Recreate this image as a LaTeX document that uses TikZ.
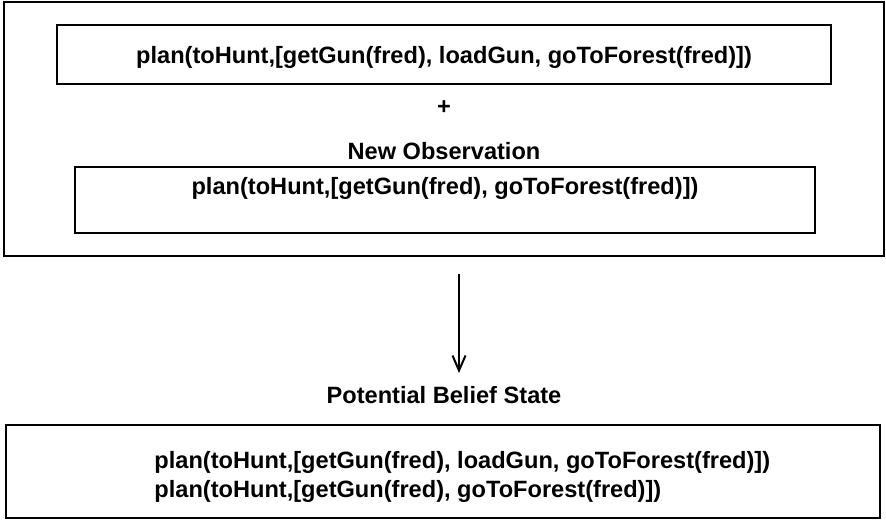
\documentclass[tikz,border=0pt]{standalone}
\usepackage{fontspec}
\setmainfont{Liberation Sans}
\usetikzlibrary{arrows.meta}

\begin{document}
\begin{tikzpicture}[x=0.5pt,y=-0.5pt,
        box/.style={draw, line width=1.1pt, inner sep=0pt},
        txt/.style={font=\fontsize{11.8}{14.5}\selectfont\bfseries, inner sep=0pt}]
        \useasboundingbox (0,0) rectangle (886,529);

        % Frame round the old plan and the observation
        \node[box, line width=1pt, minimum width=440pt, minimum height=127pt] (frame) at (444,129) {};

        % Plan held so far
        \node[box, minimum width=387pt, minimum height=29.5pt] (plan) at (444,54.5) {};
        \node[txt] (planText) at (444,57) {plan(toHunt,[getGun(fred), loadGun, goToForest(fred)])};
        \node[txt] (plus) at (444,108) {+};

        % New observation
        \node[txt] (obsLabel) at (444,151) {New Observation};
        \node[box, minimum width=370pt, minimum height=33pt] (obs) at (445,200) {};
        \node[txt] (obsText) at (445,188) {plan(toHunt,[getGun(fred), goToForest(fred)])};

        % Arrow down to the result
        \coordinate (arrowTop) at (459,274);
        \coordinate (arrowTip) at (459,373);
        \draw[line width=1pt, -{Straight Barb[length=7.5pt,width=6.5pt]}] (arrowTop) -- (arrowTip);

        % Potential belief state
        \node[txt] (beliefLabel) at (444,395) {Potential Belief State};
        \node[box, minimum width=437pt, minimum height=46.5pt] (belief) at (443,471.5) {};
        \node[txt, align=left, anchor=west] (beliefText) at (154,476.5)
            {plan(toHunt,[getGun(fred), loadGun, goToForest(fred)])\\
             plan(toHunt,[getGun(fred), goToForest(fred)])};
    \end{tikzpicture}
\end{document}
